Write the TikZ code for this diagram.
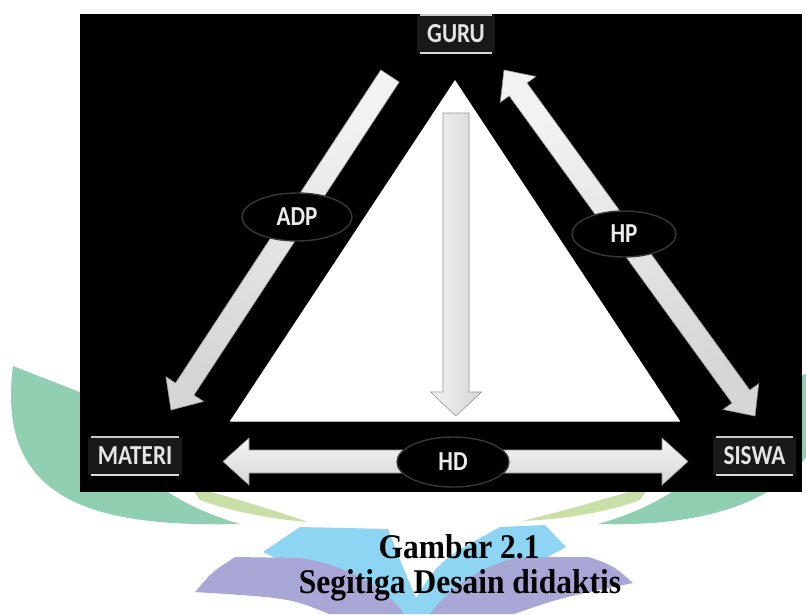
\documentclass[tikz,border=0pt]{standalone}
\usepackage{fontspec}
\setmainfont{Liberation Serif}
\newfontfamily\lblfont{Carlito}
\usetikzlibrary{calc,shapes.geometric}
\definecolor{wmgreen}{RGB}{144,207,178}
\definecolor{wmlgreen}{RGB}{200,224,168}
\definecolor{wmblue}{RGB}{141,213,242}
\definecolor{wmpurple}{RGB}{169,167,213}
\definecolor{arrowedge}{RGB}{150,150,150}
\newcommand{\lbltext}[1]{\scalebox{1.03}[1.22]{#1}}
\tikzset{
  arrowbody/.style={left color=gray!10, right color=gray!32, draw=arrowedge, line width=0.6pt, line join=miter},
  rolebox/.style={fill=black!90!white, text=white!90!black, minimum height=38pt, inner sep=0pt,
     font=\lblfont\bfseries\fontsize{22.5}{26}\selectfont},
  relell/.style={ellipse, fill=black, draw=white!22!black, line width=1.4pt, inner sep=0pt, text=white!92!black,
     font=\lblfont\bfseries\fontsize{22.5}{26}\selectfont},
  caption/.style={font=\bfseries\fontsize{31.5}{36}\selectfont, text=black, inner sep=0pt, anchor=base}
}
\newcommand{\onearrow}[6][]{%
  \coordinate (hbx) at ($(#3)!#6!(#2)$);
  \path[arrowbody,#1] ($(#2)!#4!90:(#3)$) -- ($(hbx)!#4!90:(#3)$) -- ($(hbx)!#5!90:(#3)$) -- (#3)
     -- ($(hbx)!#5!-90:(#3)$) -- ($(hbx)!#4!-90:(#3)$) -- ($(#2)!#4!-90:(#3)$) -- cycle;}
\newcommand{\twoarrow}[6][]{%
  \coordinate (hba) at ($(#2)!#6!(#3)$);
  \coordinate (hbb) at ($(#3)!#6!(#2)$);
  \path[arrowbody,#1] (#2) -- ($(hba)!#5!90:(#3)$) -- ($(hba)!#4!90:(#3)$) -- ($(hbb)!#4!90:(#3)$)
     -- ($(hbb)!#5!90:(#3)$) -- (#3) -- ($(hbb)!#5!-90:(#3)$) -- ($(hbb)!#4!-90:(#3)$)
     -- ($(hba)!#4!-90:(#3)$) -- ($(hba)!#5!-90:(#3)$) -- cycle;}
\begin{document}
\begin{tikzpicture}[x=1pt,y=-1pt]
\useasboundingbox (0,0) rectangle (806,614);
\fill[white] (0,0) rectangle (806,614);
% watermark
\fill[wmgreen] (13,366) -- (95,398) .. controls (120,470) and (175,505) .. (240,524)
   .. controls (100,527) and (-5,505) .. (13,366) -- cycle;
\fill[wmgreen] (826,366) -- (744,398) .. controls (720,470) and (665,505) .. (598,524)
   .. controls (700,527) and (840,505) .. (826,366) -- cycle;
\fill[wmlgreen] (190,486) .. controls (240,500) and (280,512) .. (308,522)
   .. controls (270,519) and (230,511) .. (200,500) -- cycle;
\fill[wmlgreen] (650,486) .. controls (600,500) and (560,512) .. (522,521)
   .. controls (570,519) and (610,511) .. (640,500) -- cycle;
\fill[wmblue] (263,552) -- (300,527) -- (388,529) .. controls (400,560) .. (416,598)
   .. controls (440,560) .. (500,527) -- (545,525) -- (566,547) -- (440,614) -- (390,614) -- cycle;
\fill[wmpurple] (195,592) .. controls (212,572) .. (235,557) -- (300,558)
   .. controls (350,565) and (390,592) .. (404,614) -- (329,614) .. controls (290,598) .. (195,592) -- cycle;
\fill[wmpurple] (633,583) .. controls (614,566) .. (589,557) -- (520,557)
   .. controls (480,565) and (445,592) .. (430,614) -- (514,614) .. controls (560,598) .. (633,583) -- cycle;
% black panel
\fill[black] (80,14) rectangle (802,492);
% white triangle
\coordinate (tA) at (455,80);
\coordinate (tL) at (230,421);
\coordinate (tR) at (680,421);
\fill[white] (tA) -- (tL) -- (tR) -- cycle;
\draw[gray!60, line width=1pt] (tL) -- (tR);
% role boxes
\node[rolebox, minimum width=78pt] (guru) at (456,34) {\lbltext{GURU}};
\node[rolebox, minimum width=94pt] (materi) at (135,456) {\lbltext{MATERI}};
\node[rolebox, minimum width=83pt] (siswa) at (754.5,456) {\lbltext{SISWA}};
\foreach \n in {guru,materi,siswa}{
  \draw[gray!42, line width=1.6pt] ([xshift=3pt]\n.north west) -- ([xshift=-3pt]\n.north east);
  \draw[gray!30, line width=1.6pt] ([xshift=3pt]\n.south west) -- ([xshift=-3pt]\n.south east);
}
% arrows
\coordinate (adpA) at (390,76);
\coordinate (adpB) at (171,410);
\onearrow[shading angle=-33]{adpA}{adpB}{11pt}{22.5pt}{25pt}
\coordinate (hpA) at (504,70);
\coordinate (hpB) at (755,416);
\twoarrow[shading angle=36]{hpA}{hpB}{11pt}{22pt}{24pt}
\coordinate (hdA) at (223,461.5);
\coordinate (hdB) at (688,461.5);
\twoarrow[top color=gray!8, bottom color=gray!32]{hdA}{hdB}{11.5pt}{23.5pt}{26pt}
\coordinate (dnA) at (456,113);
\coordinate (dnB) at (456,416);
\onearrow{dnA}{dnB}{13pt}{25.5pt}{24pt}
% relation ellipses
\node[relell, minimum width=110pt, minimum height=48pt] (adp) at (297,217) {\lbltext{ADP}};
\node[relell, minimum width=104pt, minimum height=46pt] (hp) at (624,234) {\lbltext{HP}};
\node[relell, minimum width=112pt, minimum height=50pt] (hd) at (453,462) {\lbltext{HD}};
% caption
\node[caption] (cap1) at (459,558) {\scalebox{1}[1.1]{Gambar 2.1}};
\node[caption] (cap2) at (460,593) {\scalebox{1}[1.1]{Segitiga Desain didaktis}};
\end{tikzpicture}
\end{document}
